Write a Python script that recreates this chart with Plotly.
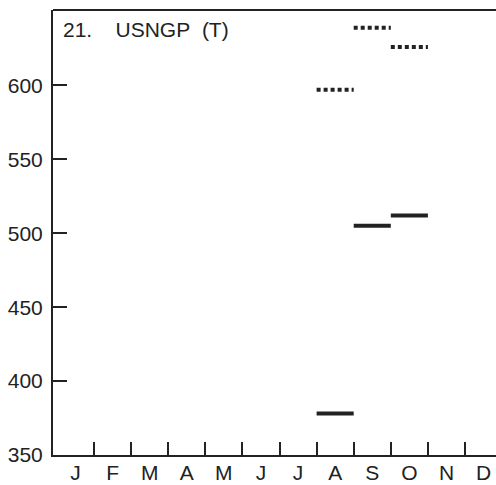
import plotly.graph_objects as go

months = ["J", "F", "M", "A", "M", "J", "J", "A", "S", "O", "N", "D"]
solid_vals = [None, None, None, None, None, None, None, 378, 505, 512, None, None]
dotted_vals = [None, None, None, None, None, None, None, 597, 639, 626, None, None]
y_ticks = [350, 400, 450, 500, 550, 600]
title_parts = ["21.", "USNGP", "(T)"]

INK = "#222222"
FONT = "Liberation Sans, Arial, sans-serif"
FS = 21


def segments(vals):
    xs, ys = [], []
    for i, v in enumerate(vals):
        if v is None:
            continue
        xs += [i, i + 1, None]
        ys += [v, v, None]
    return xs, ys


fig = go.Figure()
sx, sy = segments(solid_vals)
fig.add_trace(go.Scatter(x=sx, y=sy, mode="lines",
                         line=dict(color=INK, width=4), hoverinfo="skip", showlegend=False))
dx, dy = segments(dotted_vals)
fig.add_trace(go.Scatter(x=dx, y=dy, mode="lines",
                         line=dict(color=INK, width=4, dash="4px,3px"), hoverinfo="skip", showlegend=False))
# invisible trace to carry the month label axis
fig.add_trace(go.Scatter(x=[0.5], y=[360], xaxis="x2", mode="markers",
                         marker=dict(opacity=0), hoverinfo="skip", showlegend=False))

title_text = title_parts[0] + "\u00a0" * 4 + title_parts[1] + "\u00a0" * 2 + title_parts[2]

xr = [-0.105, 11.835]
fig.update_layout(
    width=496, height=485,
    margin=dict(l=53, r=0, t=10, b=30),
    paper_bgcolor="white", plot_bgcolor="white",
    font=dict(family=FONT, color=INK, size=FS),
    xaxis=dict(range=xr, tickvals=list(range(1, 12)), showticklabels=False,
               ticks="inside", ticklen=13, tickwidth=2, tickcolor=INK,
               showline=True, linewidth=2, linecolor=INK, showgrid=False, zeroline=False),
    xaxis2=dict(range=xr, overlaying="x", side="bottom", anchor="y",
                tickvals=[i + 0.5 for i in range(12)], ticktext=months,
                ticks="", showline=False, showgrid=False, zeroline=False,
                ticklabelstandoff=3,
                tickfont=dict(size=FS, color=INK)),
    yaxis=dict(range=[350, 651], tickvals=y_ticks, ticks="inside", ticklen=14,
               tickwidth=2, tickcolor=INK, showline=True, linewidth=2, linecolor=INK,
               showgrid=False, zeroline=False, ticklabelstandoff=4,
               tickfont=dict(size=FS, color=INK)),
    shapes=[dict(type="line", xref="paper", yref="paper", x0=0, x1=1, y0=1, y1=1,
                 line=dict(color=INK, width=2))],
    annotations=[dict(text=title_text, xref="paper", yref="paper", x=0.018, y=0.987,
                      xanchor="left", yanchor="top", showarrow=False,
                      font=dict(size=FS, color=INK, family=FONT))],
)

fig.write_html("out.html")
